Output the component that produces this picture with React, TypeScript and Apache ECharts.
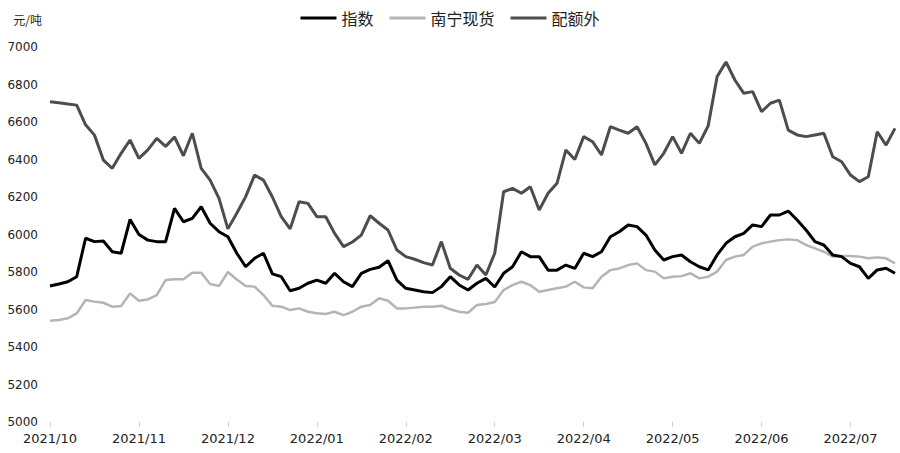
import React, { useEffect, useRef } from 'react'
import * as echarts from 'echarts'

// month labels on the x axis, one every 10 points
const monthLabels = [
  '2021/10', '2021/11', '2021/12', '2022/01', '2022/02',
  '2022/03', '2022/04', '2022/05', '2022/06', '2022/07',
]
const pointsPerMonth = 10
const pointCount = 96

// 指数
const indexValues = [
  5725, 5736, 5748, 5775, 5980, 5962, 5965, 5908, 5900, 6080,
  6000, 5970, 5962, 5962, 6139, 6068, 6086, 6148, 6060, 6015,
  5988, 5900, 5828, 5873, 5900, 5790, 5775, 5700, 5713, 5740,
  5757, 5740, 5793, 5748, 5722, 5793, 5814, 5825, 5860, 5757,
  5713, 5704, 5695, 5690, 5722, 5775, 5731, 5704, 5740, 5766,
  5720, 5793, 5828, 5908, 5882, 5882, 5810, 5810, 5837, 5819,
  5900, 5882, 5908, 5988, 6015, 6051, 6042, 5997, 5917, 5864,
  5882, 5891, 5855, 5828, 5811, 5891, 5953, 5988, 6006, 6051,
  6042, 6104, 6104, 6125, 6077, 6024, 5962, 5944, 5891, 5882,
  5846, 5828, 5766, 5811, 5820, 5793,
]

// 南宁现货
const nanningValues = [
  5540, 5544, 5553, 5579, 5651, 5642, 5636, 5615, 5619, 5686,
  5647, 5654, 5677, 5757, 5761, 5761, 5796, 5796, 5736, 5725,
  5800, 5760, 5725, 5722, 5677, 5620, 5615, 5597, 5606, 5588,
  5580, 5576, 5588, 5570, 5588, 5615, 5624, 5660, 5647, 5606,
  5606, 5610, 5615, 5615, 5620, 5601, 5588, 5583, 5624, 5629,
  5640, 5704, 5730, 5748, 5730, 5695, 5704, 5713, 5722, 5748,
  5718, 5713, 5775, 5810, 5819, 5837, 5846, 5810, 5802, 5766,
  5775, 5778, 5793, 5766, 5775, 5802, 5864, 5882, 5891, 5935,
  5953, 5962, 5970, 5974, 5970, 5944, 5926, 5908, 5882, 5885,
  5885, 5882, 5873, 5878, 5873, 5846,
]

// 配额外
const outQuotaValues = [
  6708, 6703, 6696, 6690, 6585, 6530, 6397, 6353, 6433, 6504,
  6406, 6451, 6513, 6470, 6520, 6420, 6540, 6353, 6290, 6193,
  6030, 6113, 6202, 6317, 6290, 6200, 6095, 6030, 6175, 6166,
  6095, 6095, 6006, 5935, 5960, 5997, 6100, 6060, 6024, 5917,
  5882, 5868, 5850, 5837, 5962, 5820, 5784, 5761, 5837, 5784,
  5900, 6228, 6246, 6220, 6255, 6131, 6220, 6273, 6451, 6400,
  6522, 6495, 6424, 6575, 6557, 6540, 6575, 6486, 6371, 6433,
  6522, 6433, 6540, 6486, 6580, 6842, 6920, 6824, 6753, 6762,
  6655, 6700, 6717, 6557, 6531, 6522, 6531, 6540, 6415, 6388,
  6317, 6282, 6308, 6548, 6477, 6566,
]

const categories = Array.from({ length: pointCount }, (_, i) => {
  const m = Math.floor(i / pointsPerMonth)
  return `${monthLabels[m]}#${i % pointsPerMonth}`
})

const App: React.FC = () => {
  const chartRef = useRef<HTMLDivElement>(null)

  useEffect(() => {
    if (!chartRef.current) return
    document.body.style.margin = '0'
    const chart = echarts.init(chartRef.current, undefined, { renderer: 'svg' })

    const option: echarts.EChartsOption = {
      animation: false,
      backgroundColor: '#fff',
      textStyle: { fontFamily: '"DejaVu Sans", "Noto Sans CJK SC", sans-serif' },
      legend: {
        top: 5,
        left: 'center',
        icon: 'rect',
        itemWidth: 36,
        itemHeight: 3,
        itemGap: 16,
        textStyle: {
          fontFamily: '"Noto Sans CJK SC", sans-serif',
          fontSize: 16,
          color: '#222',
        },
        data: ['指数', '南宁现货', '配额外'],
      },
      grid: { left: 50, right: 5, top: 47, bottom: 31 },
      xAxis: {
        type: 'category',
        boundaryGap: false,
        data: categories,
        axisLine: { show: false },
        axisTick: {
          show: true,
          interval: pointsPerMonth - 1,
          length: 5,
          lineStyle: { color: '#d0d0d0' },
        },
        axisLabel: {
          interval: pointsPerMonth - 1,
          margin: 10,
          fontSize: 13,
          color: '#222',
          formatter: (v: string) => v.split('#')[0],
        },
        splitLine: { show: false },
      },
      yAxis: {
        type: 'value',
        min: 5000,
        max: 7000,
        interval: 200,
        name: '元/吨',
        nameLocation: 'end',
        nameGap: 22,
        nameTextStyle: {
          align: 'right',
          padding: [0, 8, 0, 0],
          fontSize: 12,
          color: '#222',
          fontFamily: '"Noto Sans CJK SC", sans-serif',
        },
        axisLine: { show: false },
        axisTick: { show: false },
        splitLine: { show: false },
        axisLabel: {
          margin: 12,
          fontSize: 12,
          color: '#222',
          formatter: (v: number) => String(v),
        },
      },
      series: [
        {
          name: '指数',
          type: 'line',
          data: indexValues,
          symbol: 'none',
          lineStyle: { color: '#000000', width: 3 },
          itemStyle: { color: '#000000' },
          z: 4,
        },
        {
          name: '南宁现货',
          type: 'line',
          data: nanningValues,
          symbol: 'none',
          lineStyle: { color: '#b4b4b4', width: 2.5 },
          itemStyle: { color: '#b4b4b4' },
          z: 3,
        },
        {
          name: '配额外',
          type: 'line',
          data: outQuotaValues,
          symbol: 'none',
          lineStyle: { color: '#4d4d4d', width: 3 },
          itemStyle: { color: '#4d4d4d' },
          z: 2,
        },
      ],
    }

    chart.setOption(option)

    const handleResize = () => chart.resize()
    window.addEventListener('resize', handleResize)
    return () => {
      window.removeEventListener('resize', handleResize)
      chart.dispose()
    }
  }, [])

  return <div ref={chartRef} style={{ width: '900px', height: '453px' }} />
}

export default App
